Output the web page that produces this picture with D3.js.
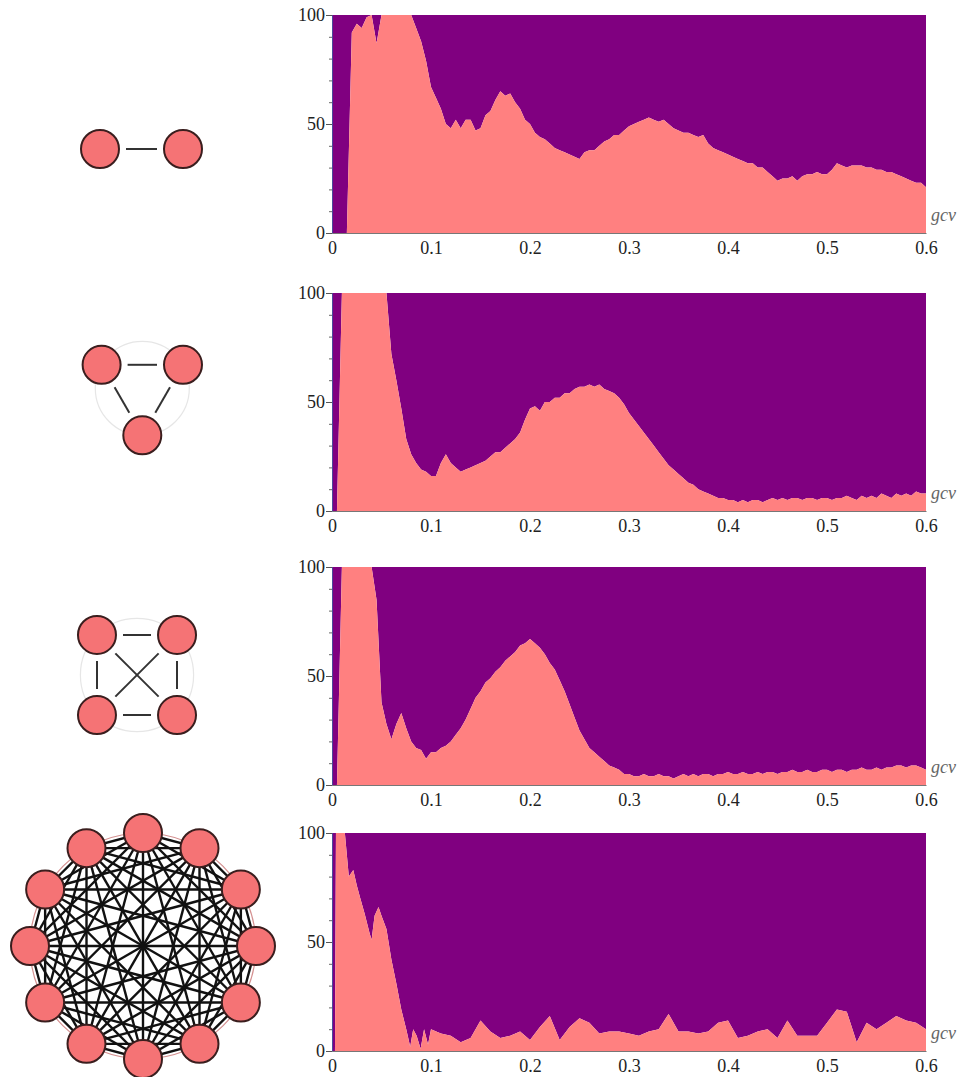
<!DOCTYPE html>
<html>
<head>
<meta charset="utf-8">
<script src="https://cdn.jsdelivr.net/npm/d3@7"></script>
<style>
  body { margin: 0; background: #fff; }
  text { font-family: "Liberation Serif", "Times New Roman", serif; }
</style>
</head>
<body>
<script>
// sampling grid shared by the first three panels (step 0.005)
const gcv = d3.range(121).map(i => +(i * 0.005).toFixed(3));

// share (%) of the salmon state
const share2 = [
  0, 0, 0, 0, 92, 96, 94, 99, 100, 87,
  100, 100, 100, 100, 100, 100, 100, 94, 88, 79,
  67, 62, 57, 50, 48, 52, 48, 52, 52, 47,
  48, 54, 56, 61, 65, 63, 64, 60, 57, 52,
  50, 46, 44, 43, 41, 39, 38, 37, 36, 35,
  34, 37, 38, 38, 40, 42, 43, 45, 45, 47,
  49, 50, 51, 52, 53, 52, 51, 52, 50, 48,
  47, 46, 46, 45, 44, 45, 41, 39, 38, 37,
  36, 35, 34, 33, 32, 32, 30, 30, 28, 26,
  24, 25, 25, 26, 24, 26, 27, 27, 28, 27,
  27, 29, 32, 31, 30, 31, 31, 31, 30, 30,
  29, 29, 28, 28, 27, 26, 25, 24, 23, 23,
  21
];
const share3 = [
  0, 0, 100, 100, 100, 100, 100, 100, 100, 100,
  100, 100, 72, 60, 47, 33, 26, 22, 19, 18,
  16, 16, 22, 26, 22, 20, 18, 19, 20, 21,
  22, 23, 25, 27, 27, 29, 31, 33, 36, 42,
  47, 48, 46, 50, 50, 52, 52, 54, 54, 56,
  57, 57, 58, 57, 58, 56, 55, 54, 52, 49,
  45, 42, 39, 36, 33, 30, 27, 24, 21, 19,
  17, 15, 13, 12, 10, 9, 8, 7, 6, 6,
  5, 5, 4, 5, 4, 5, 5, 4, 5, 6,
  5, 6, 5, 6, 6, 5, 6, 6, 5, 6,
  6, 5, 6, 6, 7, 6, 5, 7, 6, 7,
  6, 8, 7, 6, 8, 7, 8, 7, 9, 8,
  8
];
const share4 = [
  0, 0, 100, 100, 100, 100, 100, 100, 100, 85,
  38, 28, 21, 28, 33, 26, 20, 17, 16, 12,
  15, 15, 17, 18, 20, 23, 26, 30, 35, 40,
  43, 47, 49, 52, 54, 57, 59, 61, 64, 65,
  67, 65, 63, 60, 56, 53, 48, 43, 37, 31,
  25, 21, 17, 15, 13, 11, 9, 8, 7, 5,
  5, 4, 4, 5, 4, 4, 5, 4, 4, 3,
  4, 5, 4, 5, 4, 5, 5, 4, 5, 5,
  6, 5, 5, 6, 5, 5, 6, 5, 6, 6,
  5, 6, 6, 7, 6, 6, 7, 6, 6, 7,
  7, 6, 7, 7, 6, 7, 7, 8, 7, 7,
  8, 7, 8, 8, 9, 9, 8, 9, 9, 8,
  7
];

// the twelve-node panel is sampled more coarsely
const gcv12 = [
  0, 0.003, 0.004, 0.013, 0.017, 0.0215, 0.025, 0.028, 0.033, 0.038,
  0.040, 0.043, 0.047, 0.050, 0.055, 0.060, 0.065, 0.070, 0.075, 0.079,
  0.082, 0.0855, 0.0895, 0.093, 0.097, 0.10,
  0.11, 0.12, 0.13, 0.14, 0.15, 0.16, 0.17, 0.18, 0.19, 0.20,
  0.21, 0.22, 0.23, 0.24, 0.25, 0.26, 0.27, 0.28, 0.29, 0.30,
  0.31, 0.32, 0.33, 0.34, 0.35, 0.36, 0.37, 0.38, 0.39, 0.40,
  0.41, 0.42, 0.43, 0.44, 0.45, 0.46, 0.47, 0.48, 0.49, 0.50,
  0.51, 0.52, 0.53, 0.54, 0.55, 0.56, 0.57, 0.58, 0.59, 0.60
];
const share12 = [
  0, 0, 100, 100, 80, 83, 76, 71, 63, 54,
  51, 62, 66, 62, 56, 42, 31, 19, 10, 2,
  10, 7, 1, 10, 3, 10,
  8, 7, 4, 6, 14, 9, 6, 7, 9, 5,
  11, 16, 5, 11, 15, 13, 8, 9, 9, 8,
  7, 9, 10, 17, 9, 9, 8, 9, 13, 14,
  6, 7, 9, 10, 6, 14, 7, 7, 7, 13,
  19, 18, 4, 13, 10, 13, 16, 14, 13, 10
];

const nodeCounts = [2, 3, 4, 12];
const xTicks = [0, 0.1, 0.2, 0.3, 0.4, 0.5, 0.6];
const yTicks = [0, 50, 100];
const yMinor = [0, 10, 20, 30, 40, 50, 60, 70, 80, 90, 100];

const grids = [gcv, gcv, gcv, gcv12];
const shares = [share2, share3, share4, share12];

// layout
const width = 963, height = 1077;
const plotH = 218;
const panelTops = [15, 293, 567, 833];
const diagrams = [
  {cx: 141.5, cy: 149, R: 41.5, a0: 180},
  {cx: 142.3, cy: 388.3, R: 47, a0: 210},
  {cx: 137, cy: 675, R: 56.6, a0: 225},
  {cx: 143, cy: 946, R: 113, a0: -90}
];
const purple = "#800080", salmon = "#ff8080";
const nodeFill = "#f57375", nodeStroke = "#3a1e1e", nodeR = 19;

const svg = d3.select("body").append("svg")
    .attr("width", width)
    .attr("height", height);

const x = d3.scaleLinear([0, 0.6], [332, 926]);

shares.forEach((share, i) => {
  const top = panelTops[i];
  const y = d3.scaleLinear([0, 100], [top + plotH, top]);
  const pts = grids[i].map((g, j) => [g, share[j]]);
  const g = svg.append("g");

  g.append("path")
      .datum(pts)
      .attr("fill", purple)
      .attr("d", d3.area().x(d => x(d[0])).y0(d => y(d[1])).y1(y(100)));
  g.append("path")
      .datum(pts)
      .attr("fill", salmon)
      .attr("d", d3.area().x(d => x(d[0])).y0(y(0)).y1(d => y(d[1])));

  // y axis: minor ticks, then labelled major ticks
  g.append("g")
      .attr("transform", `translate(${x(0)},0)`)
      .call(d3.axisLeft(y).tickValues(yMinor).tickSize(3).tickFormat(""))
      .call(a => a.select(".domain").attr("stroke", "#4a4a9a"))
      .call(a => a.selectAll(".tick line").attr("stroke", "#666"));
  g.append("g")
      .attr("transform", `translate(${x(0)},0)`)
      .call(d3.axisLeft(y).tickValues(yTicks).tickSize(6).tickPadding(1))
      .call(a => a.select(".domain").remove())
      .call(a => a.selectAll(".tick line").attr("stroke", "#555"))
      .call(a => a.selectAll("text")
          .attr("fill", "#222")
          .attr("font-size", 18)
          .attr("font-family", "Liberation Serif"));

  // x axis
  g.append("g")
      .attr("transform", `translate(0,${y(0)})`)
      .call(d3.axisBottom(x).tickValues(xTicks).tickSize(0).tickPadding(8)
          .tickFormat(d => String(d)))
      .call(a => a.select(".domain").attr("stroke", "#777"))
      .call(a => a.selectAll("text")
          .attr("fill", "#222")
          .attr("font-size", 18)
          .attr("font-family", "Liberation Serif"));

  g.append("text")
      .attr("x", x(0.6) + 5)
      .attr("y", y(0) - 12)
      .attr("fill", "#666")
      .attr("font-size", 18)
      .attr("font-style", "italic")
      .text("gcv");

  // complete-graph icon on the left
  const n = nodeCounts[i], lay = diagrams[i];
  const nodes = d3.range(n).map(k => {
    const a = (lay.a0 + k * 360 / n) * Math.PI / 180;
    return [lay.cx + lay.R * Math.cos(a), lay.cy + lay.R * Math.sin(a)];
  });
  const edges = d3.cross(d3.range(n), d3.range(n)).filter(([p, q]) => p < q);
  const big = n > 4;
  const gap = big ? 0 : nodeR + 7;

  const d = svg.append("g");
  if (n > 2) {
    d.append("circle")
        .attr("cx", lay.cx).attr("cy", lay.cy).attr("r", lay.R)
        .attr("fill", "none")
        .attr("stroke", big ? "#d49090" : "#e6e6e6")
        .attr("stroke-width", 1.2);
  }
  d.selectAll("line")
    .data(edges)
    .join("line")
      .each(function([p, q]) {
        const [x1, y1] = nodes[p], [x2, y2] = nodes[q];
        const len = Math.hypot(x2 - x1, y2 - y1);
        const ux = (x2 - x1) / len, uy = (y2 - y1) / len;
        d3.select(this)
            .attr("x1", x1 + ux * gap).attr("y1", y1 + uy * gap)
            .attr("x2", x2 - ux * gap).attr("y2", y2 - uy * gap);
      })
      .attr("stroke", big ? "#111" : "#333")
      .attr("stroke-width", big ? 2.4 : 2);
  d.selectAll("circle.node")
    .data(nodes)
    .join("circle")
      .attr("class", "node")
      .attr("cx", p => p[0])
      .attr("cy", p => p[1])
      .attr("r", nodeR)
      .attr("fill", nodeFill)
      .attr("stroke", nodeStroke)
      .attr("stroke-width", 2);
});
</script>
</body>
</html>
